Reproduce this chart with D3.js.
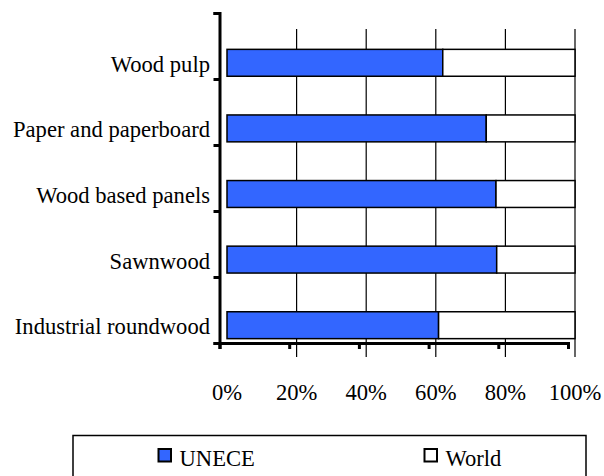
<!DOCTYPE html>
<html>
<head>
<meta charset="utf-8">
<script src="https://cdn.jsdelivr.net/npm/d3@7"></script>
<style>
  html, body { margin: 0; padding: 0; background: #fff; }
  svg { display: block; }
</style>
</head>
<body>
<svg id="chart" width="604" height="476"></svg>
<script>
// ---- data (share of world total, %) ----
const categories = ["Wood pulp", "Paper and paperboard", "Wood based panels", "Sawnwood", "Industrial roundwood"];
const unece = [62.0, 74.5, 77.3, 77.5, 60.8];
const world = [38.0, 25.5, 22.7, 22.5, 39.2];
const seriesNames = ["UNECE", "World"];
const tickLabels = ["0%", "20%", "40%", "60%", "80%", "100%"];
const tickValues = [0, 20, 40, 60, 80, 100];

const colors = { UNECE: "#3366FF", World: "#FFFFFF" };
const FONT = "'Liberation Serif', 'Times New Roman', 'DejaVu Serif', serif";
const FS = 22.6;

const svg = d3.select("#chart").attr("font-family", FONT);

// plot area scales
const x = d3.scaleLinear().domain([0, 100]).range([227, 575]);
const y = d3.scaleBand().domain(categories).range([30, 358]).paddingInner(0.59).paddingOuter(0.295);

// axis scales (drawn slightly offset, as in reference)
const xAxisScale = d3.scaleLinear().domain([0, 100]).range([219.5, 568]);
const yAxisScale = d3.scaleLinear().domain([0, 5]).range([343, 13]);

// gridlines
svg.append("g").selectAll("line").data(tickValues.slice(1)).join("line")
  .attr("x1", d => x(d)).attr("x2", d => x(d))
  .attr("y1", 29).attr("y2", 357)
  .attr("stroke", "#000").attr("stroke-width", 1.2);

// stacked bars
const rows = categories.map((c, i) => ({ cat: c, UNECE: unece[i], World: world[i] }));
const stack = d3.stack().keys(seriesNames);
const stacked = stack(rows);

svg.append("g").selectAll("g").data(stacked).join("g")
  .attr("fill", d => colors[d.key])
  .selectAll("rect").data(d => d).join("rect")
  .attr("x", d => x(d[0]))
  .attr("width", d => x(d[1]) - x(d[0]))
  .attr("y", d => y(d.data.cat))
  .attr("height", y.bandwidth())
  .attr("stroke", "#000").attr("stroke-width", 1.5);

// axes
const yAxis = d3.axisLeft(yAxisScale).tickValues([0,1,2,3,4,5]).tickSize(6).tickFormat("");
const gy = svg.append("g").attr("transform", "translate(219.5,0)").call(yAxis);
const xAxis = d3.axisBottom(xAxisScale).tickValues(tickValues).tickSize(6).tickFormat("");
const gx = svg.append("g").attr("transform", "translate(0,343)").call(xAxis);
[gy, gx].forEach(g => {
  g.attr("font-family", FONT);
  g.select(".domain").attr("stroke", "#000").attr("stroke-width", 3);
  g.selectAll(".tick line").attr("stroke", "#000").attr("stroke-width", 3);
});

// category labels
svg.append("g").selectAll("text").data(categories).join("text")
  .attr("x", 210)
  .attr("y", d => y(d) + y.bandwidth() / 2 + 9)
  .attr("text-anchor", "end")
  .attr("font-family", FONT)
  .attr("font-size", FS)
  .attr("fill", "#000")
  .text(d => d);

// x tick labels
svg.append("g").selectAll("text").data(tickValues).join("text")
  .attr("x", d => x(d))
  .attr("y", 400)
  .attr("text-anchor", "middle")
  .attr("font-family", FONT)
  .attr("font-size", FS)
  .attr("fill", "#000")
  .text((d, i) => tickLabels[i]);

// legend
svg.append("rect").attr("x", 73).attr("y", 435.5).attr("width", 513).attr("height", 60)
  .attr("fill", "#fff").attr("stroke", "#000").attr("stroke-width", 1.5);
const legendX = [158.5, 424.5];
const lg = svg.append("g").selectAll("g").data(seriesNames).join("g")
  .attr("transform", (d, i) => `translate(${legendX[i]},449)`);
lg.append("rect").attr("width", 12.5).attr("height", 12.5)
  .attr("fill", d => colors[d]).attr("stroke", "#000").attr("stroke-width", 2);
lg.append("text").attr("x", 21).attr("y", 16.5)
  .attr("font-family", FONT).attr("font-size", FS).attr("fill", "#000")
  .text(d => d);
</script>
</body>
</html>
